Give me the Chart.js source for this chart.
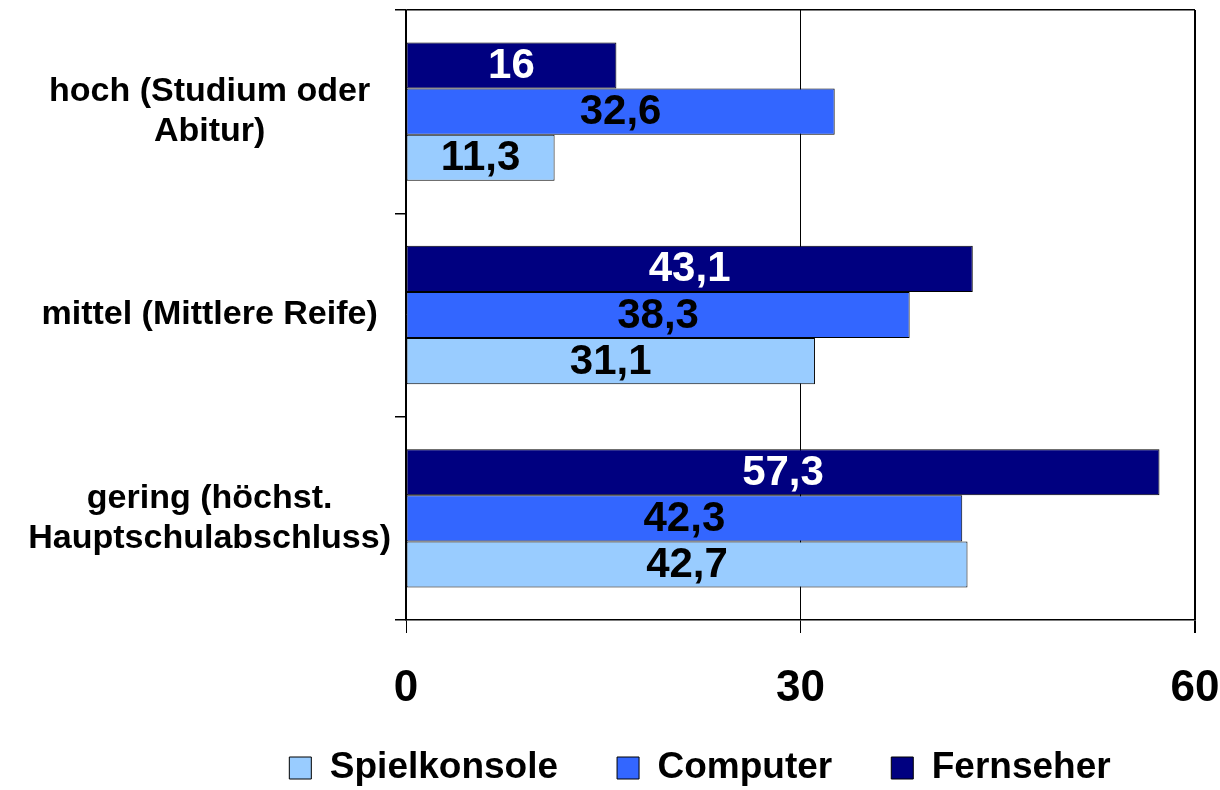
<!DOCTYPE html>
<html><head><meta charset="utf-8">
<script src="https://cdn.jsdelivr.net/npm/chart.js@4/dist/chart.umd.min.js"></script>
<style>html,body{margin:0;padding:0;background:#fff}</style>
</head><body>
<canvas id="c" width="1220" height="790"></canvas>
<script>
const categories = [["hoch (Studium oder", "Abitur)"], "mittel (Mittlere Reife)", ["gering (höchst.", "Hauptschulabschluss)"]];
const seriesNames = ["Fernseher", "Computer", "Spielkonsole"];
const fernseher = [16, 43.1, 57.3];
const computer = [32.6, 38.3, 42.3];
const spielkonsole = [11.3, 31.1, 42.7];
const xTicks = [0, 30, 60];

const FONT = "'Liberation Sans', Arial, Helvetica, sans-serif";
Chart.defaults.font.family = FONT;

const valueLabels = {
  id: 'valueLabels',
  afterDatasetsDraw(chart) {
    const ctx = chart.ctx;
    ctx.save();
    ctx.font = "bold 42px " + FONT;
    ctx.textAlign = 'center';
    ctx.textBaseline = 'middle';
    chart.data.datasets.forEach((ds, di) => {
      const meta = chart.getDatasetMeta(di);
      meta.data.forEach((el, i) => {
        const v = ds.data[i];
        ctx.fillStyle = di === 0 ? '#ffffff' : '#000000';
        ctx.fillText(String(v).replace('.', ','), (el.x + el.base) / 2, el.y + 1);
      });
    });
    ctx.restore();
  }
};

// place the legend block so it is centred under the plot like the original
const legendPlace = {
  id: 'legendPlace',
  afterLayout(chart) {
    const lg = chart.legend;
    if (!lg) return;
    lg.left = chart.chartArea.left - 201;
    lg.right = chart.chartArea.right;
    lg.width = lg.right - lg.left;
    lg.top -= 19.5;
    lg.height = lg.bottom - lg.top;
  }
};

new Chart(document.getElementById('c'), {
  type: 'bar',
  data: {
    labels: categories,
    datasets: [
      { label: seriesNames[0], data: fernseher, backgroundColor: '#000080' },
      { label: seriesNames[1], data: computer, backgroundColor: '#3366FF' },
      { label: seriesNames[2], data: spielkonsole, backgroundColor: '#99CCFF' }
    ].map(d => Object.assign(d, { borderColor: '#000', borderWidth: 1, borderSkipped: false, barPercentage: 1, categoryPercentage: 0.68 }))
  },
  options: {
    indexAxis: 'y',
    responsive: false,
    animation: false,
    layout: { padding: { left: 0, right: 0, top: 10, bottom: 0 } },
    plugins: {
      legend: {
        position: 'bottom',
        reverse: true,
        maxHeight: 80,
        labels: { font: { size: 37, weight: 'bold' }, color: '#000', boxWidth: 22, boxHeight: 22, padding: 59 }
      },
      tooltip: { enabled: false }
    },
    scales: {
      y: {
        grid: {
          offset: true,
          color: c => c.index === 0 ? '#000' : 'rgba(0,0,0,0)',
          tickColor: '#000',
          tickLength: 11,
          lineWidth: 1.5
        },
        border: { color: '#000', width: 1.5 },
        ticks: { crossAlign: 'center', padding: 4, color: '#000', font: { size: 34, weight: 'bold', lineHeight: 1.18 } },
        afterFit: s => { s.width = 406; s.paddingTop = 0; s.paddingBottom = 0; }
      },
      x: {
        min: 0, max: 60,
        grid: { color: '#000', tickLength: 13, lineWidth: c => (c.tick && c.tick.value === 60) ? 2 : 1 },
        border: { color: '#000', width: 1.5 },
        ticks: { padding: 29, color: '#000', font: { size: 44, weight: 'bold' } },
        afterBuildTicks: s => { s.ticks = xTicks.map(v => ({ value: v })); },
        afterFit: s => { s.height = 90; s.paddingRight = 25; }
      }
    }
  },
  plugins: [valueLabels, legendPlace]
});
</script>
</body></html>
